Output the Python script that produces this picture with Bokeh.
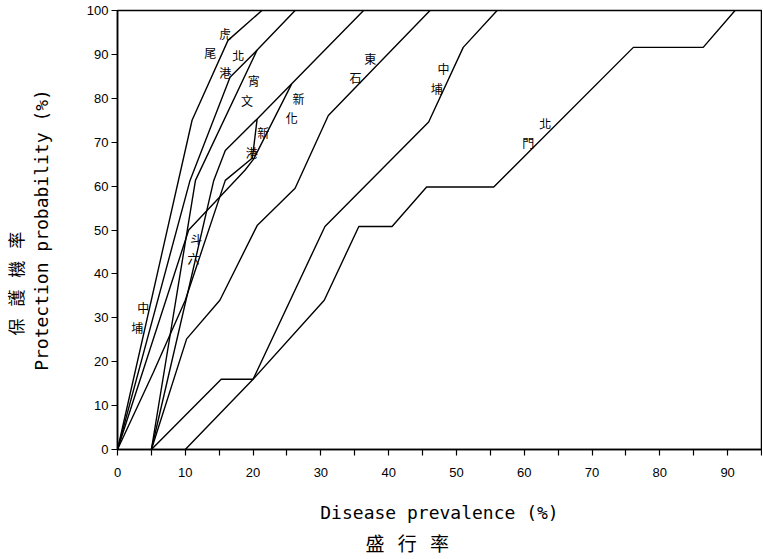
from bokeh.plotting import figure
from bokeh.models import Range1d, FixedTicker, Title
from bokeh.embed import file_html
from bokeh.resources import INLINE
from bokeh.core.properties import value

# ---- data (disease prevalence %, protection probability %) ----
huwei_x = [0, 11, 16.3, 21.3]
huwei_y = [0, 75, 93.2, 100]
beigang_x = [0, 10.7, 16.6, 20.6, 26.2]
beigang_y = [0, 61.3, 84.8, 91, 100]
xiaowen_x = [5, 11.5, 20.6]
xiaowen_y = [0, 61.3, 91]
xingang_x = [5, 14.2, 15.9, 20.6, 25.7, 36.3]
xingang_y = [0, 61.3, 68.1, 75.3, 83.3, 100]
xinhua_x = [0, 10.5, 18.8, 20.1, 25.7]
xinhua_y = [0, 50, 63.6, 66.2, 83.3]
douliu_x = [0, 5.3, 10, 15.9, 19.9, 20.6]
douliu_y = [0, 17.6, 34, 61.3, 66.4, 75.3]
dongshi_x = [5, 10.2, 15.1, 20.6, 26.2, 31.1, 46.1]
dongshi_y = [0, 25.2, 34, 51, 59.5, 76.1, 100]
zhongpu_x = [5, 15.3, 20, 30.6, 45.9, 51, 56]
zhongpu_y = [0, 16, 16, 50.8, 74.6, 91.6, 100]
beimen_x = [10, 20, 30.5, 35.6, 40.5, 45.6, 55.5, 76.1, 86.4, 91.1]
beimen_y = [0, 16, 34, 50.8, 50.8, 59.8, 59.8, 91.6, 91.6, 100]

x_ticks = [0, 10, 20, 30, 40, 50, 60, 70, 80, 90]
x_minor = [5, 15, 25, 35, 45, 55, 65, 75, 85, 95]
y_ticks = [0, 10, 20, 30, 40, 50, 60, 70, 80, 90, 100]

# in-chart labels (two characters each)
label_chars = ["虎", "尾", "北", "港", "宵", "文", "新", "化", "新", "港",
               "斗", "六", "中", "埔", "東", "石", "中", "埔", "北", "門"]
label_x = [15.9, 13.7, 17.8, 15.9, 20.1, 19.1, 26.7, 25.7, 21.5, 19.8,
           11.6, 11.2, 3.8, 2.9, 37.3, 35.1, 48.1, 47.1, 63.1, 60.6]
label_y = [94.7, 90.4, 89.7, 85.9, 84.1, 79.5, 80, 75.6, 72.2, 67.7,
           48, 43.4, 32.4, 27.9, 89, 84.8, 86.7, 82.2, 74.2, 70]

p = figure(width=762, height=558, output_backend="svg", toolbar_location=None,
           x_range=Range1d(0, 95), y_range=Range1d(0, 100),
           min_border_left=117, min_border_right=1, min_border_top=10,
           min_border_bottom=109)
p.grid.visible = False
p.outline_line_color = "black"
p.outline_line_width = 1.5
p.background_fill_color = "white"
p.border_fill_color = "white"

series = [(huwei_x, huwei_y), (beigang_x, beigang_y), (xiaowen_x, xiaowen_y),
          (xingang_x, xingang_y), (xinhua_x, xinhua_y), (douliu_x, douliu_y),
          (dongshi_x, dongshi_y), (zhongpu_x, zhongpu_y), (beimen_x, beimen_y)]
for sx, sy in series:
    p.line(sx, sy, line_color="black", line_width=1.4)

p.text(x=label_x, y=label_y, text=label_chars, text_font=value("Noto Sans CJK TC"),
       text_font_size="12px", text_align="center", text_baseline="middle",
       text_color="black")

mono = "DejaVu Sans Mono"
for ax in (p.xaxis[0], p.yaxis[0]):
    ax.axis_line_color = "black"
    ax.axis_line_width = 1.5
    ax.major_tick_line_color = "black"
    ax.major_tick_line_width = 1.2
    ax.major_tick_in = 0
    ax.major_tick_out = 6
    ax.minor_tick_line_color = "black"
    ax.minor_tick_line_width = 1.2
    ax.minor_tick_in = 0
    ax.minor_tick_out = 6
    ax.major_label_text_font = "Liberation Sans"
    ax.major_label_text_font_size = "13px"
    ax.major_label_text_color = "black"
    ax.axis_label_text_font = mono
    ax.axis_label_text_font_size = "18px"
    ax.axis_label_text_font_style = "normal"
    ax.axis_label_text_color = "black"

p.xaxis[0].ticker = FixedTicker(ticks=x_ticks, minor_ticks=x_minor)
p.yaxis[0].ticker = FixedTicker(ticks=y_ticks, minor_ticks=[])
p.xaxis[0].major_label_standoff = 12
p.yaxis[0].major_label_standoff = 3
p.yaxis[0].axis_label = "Protection probability (%)"
p.yaxis[0].axis_label_standoff = 32
p.xaxis[0].axis_label = "Disease prevalence (%)"
p.xaxis[0].axis_label_standoff = 22

sp = "\u2002\u2009"
p.add_layout(Title(text=sp.join(["保", "護", "機", "率"]), align="left", offset=114, standoff=0,
                   text_font="Noto Sans CJK TC", text_font_size="17px",
                   text_font_style="normal", text_color="black"), "left")
p.add_layout(Title(text=sp.join(["盛", "行", "率"]), align="left", offset=248, standoff=3,
                   text_font="Noto Sans CJK TC", text_font_size="19px",
                   text_font_style="normal", text_color="black"), "below")

open("out.html", "w").write(file_html(p, INLINE))
